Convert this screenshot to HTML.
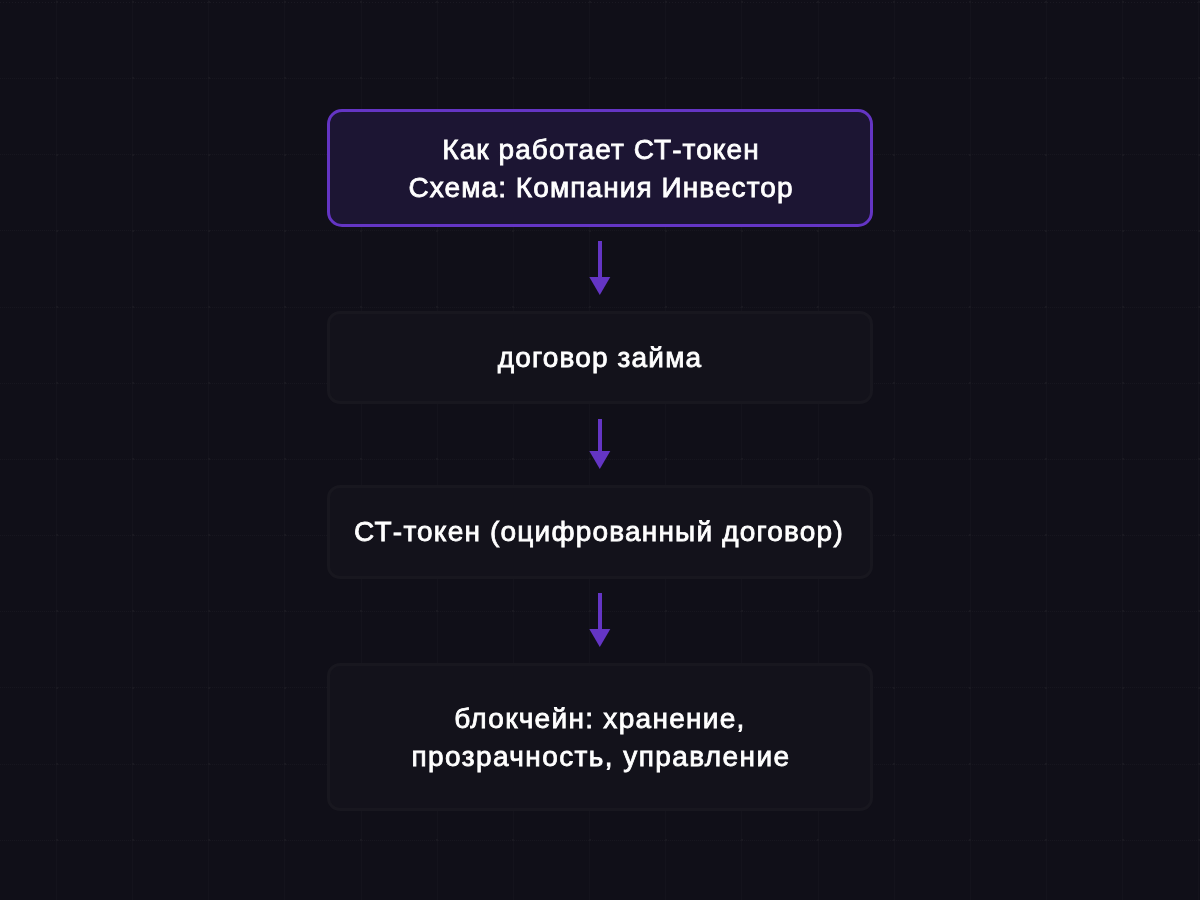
<!DOCTYPE html>
<html><head><meta charset="utf-8"><style>
html,body{margin:0;padding:0;}
body{width:1200px;height:900px;background:#100f18;position:relative;overflow:hidden;font-family:"Liberation Sans",sans-serif;}
.vl{position:absolute;top:0;width:1px;height:900px;background:#14131c;}
.hl{position:absolute;left:0;height:1px;width:1200px;background:repeating-linear-gradient(to right,#17161f 0 1px,transparent 1px 2px);}
.hl0{position:absolute;left:0;height:1px;width:1200px;background:repeating-linear-gradient(to right,#1a1922 0 1px,transparent 1px 3px);}
.dot{position:absolute;width:2px;height:2px;background:#1a1921;}
.box{position:absolute;left:327px;width:546px;box-sizing:border-box;border:3px solid #18171f;background:#13121b;border-radius:13px;}
.b1{border-radius:15px;top:109px;height:118px;border-color:#6435c4;background:#1c1533;}
.b2{top:311px;height:93px;}
.b3{top:485px;height:94px;}
.b4{top:663px;height:148px;}
.t{position:absolute;left:0;width:1200px;box-sizing:border-box;text-align:center;color:#fff;font-weight:400;font-size:28px;white-space:nowrap;-webkit-text-stroke:0.8px #fff;will-change:transform;}
svg{position:absolute;left:0;top:0;}
</style></head><body>
<div class="vl" style="left:56px"></div><div class="vl" style="left:132px"></div><div class="vl" style="left:208px"></div><div class="vl" style="left:284px"></div><div class="vl" style="left:361px"></div><div class="vl" style="left:437px"></div><div class="vl" style="left:513px"></div><div class="vl" style="left:589px"></div><div class="vl" style="left:665px"></div><div class="vl" style="left:741px"></div><div class="vl" style="left:818px"></div><div class="vl" style="left:894px"></div><div class="vl" style="left:970px"></div><div class="vl" style="left:1046px"></div><div class="vl" style="left:1122px"></div><div class="vl" style="left:1198px"></div><div class="hl0" style="top:2px"></div><div class="hl" style="top:78px"></div><div class="hl" style="top:154px"></div><div class="hl" style="top:230px"></div><div class="hl" style="top:307px"></div><div class="hl" style="top:383px"></div><div class="hl" style="top:459px"></div><div class="hl" style="top:535px"></div><div class="hl" style="top:611px"></div><div class="hl" style="top:687px"></div><div class="hl" style="top:764px"></div><div class="hl" style="top:840px"></div><div class="dot" style="left:56px;top:1px"></div><div class="dot" style="left:56px;top:77px"></div><div class="dot" style="left:56px;top:154px"></div><div class="dot" style="left:56px;top:230px"></div><div class="dot" style="left:56px;top:306px"></div><div class="dot" style="left:56px;top:382px"></div><div class="dot" style="left:56px;top:458px"></div><div class="dot" style="left:56px;top:534px"></div><div class="dot" style="left:56px;top:610px"></div><div class="dot" style="left:56px;top:687px"></div><div class="dot" style="left:56px;top:763px"></div><div class="dot" style="left:56px;top:839px"></div><div class="dot" style="left:132px;top:1px"></div><div class="dot" style="left:132px;top:77px"></div><div class="dot" style="left:132px;top:154px"></div><div class="dot" style="left:132px;top:230px"></div><div class="dot" style="left:132px;top:306px"></div><div class="dot" style="left:132px;top:382px"></div><div class="dot" style="left:132px;top:458px"></div><div class="dot" style="left:132px;top:534px"></div><div class="dot" style="left:132px;top:610px"></div><div class="dot" style="left:132px;top:687px"></div><div class="dot" style="left:132px;top:763px"></div><div class="dot" style="left:132px;top:839px"></div><div class="dot" style="left:208px;top:1px"></div><div class="dot" style="left:208px;top:77px"></div><div class="dot" style="left:208px;top:154px"></div><div class="dot" style="left:208px;top:230px"></div><div class="dot" style="left:208px;top:306px"></div><div class="dot" style="left:208px;top:382px"></div><div class="dot" style="left:208px;top:458px"></div><div class="dot" style="left:208px;top:534px"></div><div class="dot" style="left:208px;top:610px"></div><div class="dot" style="left:208px;top:687px"></div><div class="dot" style="left:208px;top:763px"></div><div class="dot" style="left:208px;top:839px"></div><div class="dot" style="left:284px;top:1px"></div><div class="dot" style="left:284px;top:77px"></div><div class="dot" style="left:284px;top:154px"></div><div class="dot" style="left:284px;top:230px"></div><div class="dot" style="left:284px;top:306px"></div><div class="dot" style="left:284px;top:382px"></div><div class="dot" style="left:284px;top:458px"></div><div class="dot" style="left:284px;top:534px"></div><div class="dot" style="left:284px;top:610px"></div><div class="dot" style="left:284px;top:687px"></div><div class="dot" style="left:284px;top:763px"></div><div class="dot" style="left:284px;top:839px"></div><div class="dot" style="left:360px;top:1px"></div><div class="dot" style="left:360px;top:77px"></div><div class="dot" style="left:360px;top:154px"></div><div class="dot" style="left:360px;top:230px"></div><div class="dot" style="left:360px;top:306px"></div><div class="dot" style="left:360px;top:382px"></div><div class="dot" style="left:360px;top:458px"></div><div class="dot" style="left:360px;top:534px"></div><div class="dot" style="left:360px;top:610px"></div><div class="dot" style="left:360px;top:687px"></div><div class="dot" style="left:360px;top:763px"></div><div class="dot" style="left:360px;top:839px"></div><div class="dot" style="left:436px;top:1px"></div><div class="dot" style="left:436px;top:77px"></div><div class="dot" style="left:436px;top:154px"></div><div class="dot" style="left:436px;top:230px"></div><div class="dot" style="left:436px;top:306px"></div><div class="dot" style="left:436px;top:382px"></div><div class="dot" style="left:436px;top:458px"></div><div class="dot" style="left:436px;top:534px"></div><div class="dot" style="left:436px;top:610px"></div><div class="dot" style="left:436px;top:687px"></div><div class="dot" style="left:436px;top:763px"></div><div class="dot" style="left:436px;top:839px"></div><div class="dot" style="left:512px;top:1px"></div><div class="dot" style="left:512px;top:77px"></div><div class="dot" style="left:512px;top:154px"></div><div class="dot" style="left:512px;top:230px"></div><div class="dot" style="left:512px;top:306px"></div><div class="dot" style="left:512px;top:382px"></div><div class="dot" style="left:512px;top:458px"></div><div class="dot" style="left:512px;top:534px"></div><div class="dot" style="left:512px;top:610px"></div><div class="dot" style="left:512px;top:687px"></div><div class="dot" style="left:512px;top:763px"></div><div class="dot" style="left:512px;top:839px"></div><div class="dot" style="left:589px;top:1px"></div><div class="dot" style="left:589px;top:77px"></div><div class="dot" style="left:589px;top:154px"></div><div class="dot" style="left:589px;top:230px"></div><div class="dot" style="left:589px;top:306px"></div><div class="dot" style="left:589px;top:382px"></div><div class="dot" style="left:589px;top:458px"></div><div class="dot" style="left:589px;top:534px"></div><div class="dot" style="left:589px;top:610px"></div><div class="dot" style="left:589px;top:687px"></div><div class="dot" style="left:589px;top:763px"></div><div class="dot" style="left:589px;top:839px"></div><div class="dot" style="left:665px;top:1px"></div><div class="dot" style="left:665px;top:77px"></div><div class="dot" style="left:665px;top:154px"></div><div class="dot" style="left:665px;top:230px"></div><div class="dot" style="left:665px;top:306px"></div><div class="dot" style="left:665px;top:382px"></div><div class="dot" style="left:665px;top:458px"></div><div class="dot" style="left:665px;top:534px"></div><div class="dot" style="left:665px;top:610px"></div><div class="dot" style="left:665px;top:687px"></div><div class="dot" style="left:665px;top:763px"></div><div class="dot" style="left:665px;top:839px"></div><div class="dot" style="left:741px;top:1px"></div><div class="dot" style="left:741px;top:77px"></div><div class="dot" style="left:741px;top:154px"></div><div class="dot" style="left:741px;top:230px"></div><div class="dot" style="left:741px;top:306px"></div><div class="dot" style="left:741px;top:382px"></div><div class="dot" style="left:741px;top:458px"></div><div class="dot" style="left:741px;top:534px"></div><div class="dot" style="left:741px;top:610px"></div><div class="dot" style="left:741px;top:687px"></div><div class="dot" style="left:741px;top:763px"></div><div class="dot" style="left:741px;top:839px"></div><div class="dot" style="left:817px;top:1px"></div><div class="dot" style="left:817px;top:77px"></div><div class="dot" style="left:817px;top:154px"></div><div class="dot" style="left:817px;top:230px"></div><div class="dot" style="left:817px;top:306px"></div><div class="dot" style="left:817px;top:382px"></div><div class="dot" style="left:817px;top:458px"></div><div class="dot" style="left:817px;top:534px"></div><div class="dot" style="left:817px;top:610px"></div><div class="dot" style="left:817px;top:687px"></div><div class="dot" style="left:817px;top:763px"></div><div class="dot" style="left:817px;top:839px"></div><div class="dot" style="left:893px;top:1px"></div><div class="dot" style="left:893px;top:77px"></div><div class="dot" style="left:893px;top:154px"></div><div class="dot" style="left:893px;top:230px"></div><div class="dot" style="left:893px;top:306px"></div><div class="dot" style="left:893px;top:382px"></div><div class="dot" style="left:893px;top:458px"></div><div class="dot" style="left:893px;top:534px"></div><div class="dot" style="left:893px;top:610px"></div><div class="dot" style="left:893px;top:687px"></div><div class="dot" style="left:893px;top:763px"></div><div class="dot" style="left:893px;top:839px"></div><div class="dot" style="left:969px;top:1px"></div><div class="dot" style="left:969px;top:77px"></div><div class="dot" style="left:969px;top:154px"></div><div class="dot" style="left:969px;top:230px"></div><div class="dot" style="left:969px;top:306px"></div><div class="dot" style="left:969px;top:382px"></div><div class="dot" style="left:969px;top:458px"></div><div class="dot" style="left:969px;top:534px"></div><div class="dot" style="left:969px;top:610px"></div><div class="dot" style="left:969px;top:687px"></div><div class="dot" style="left:969px;top:763px"></div><div class="dot" style="left:969px;top:839px"></div><div class="dot" style="left:1045px;top:1px"></div><div class="dot" style="left:1045px;top:77px"></div><div class="dot" style="left:1045px;top:154px"></div><div class="dot" style="left:1045px;top:230px"></div><div class="dot" style="left:1045px;top:306px"></div><div class="dot" style="left:1045px;top:382px"></div><div class="dot" style="left:1045px;top:458px"></div><div class="dot" style="left:1045px;top:534px"></div><div class="dot" style="left:1045px;top:610px"></div><div class="dot" style="left:1045px;top:687px"></div><div class="dot" style="left:1045px;top:763px"></div><div class="dot" style="left:1045px;top:839px"></div><div class="dot" style="left:1122px;top:1px"></div><div class="dot" style="left:1122px;top:77px"></div><div class="dot" style="left:1122px;top:154px"></div><div class="dot" style="left:1122px;top:230px"></div><div class="dot" style="left:1122px;top:306px"></div><div class="dot" style="left:1122px;top:382px"></div><div class="dot" style="left:1122px;top:458px"></div><div class="dot" style="left:1122px;top:534px"></div><div class="dot" style="left:1122px;top:610px"></div><div class="dot" style="left:1122px;top:687px"></div><div class="dot" style="left:1122px;top:763px"></div><div class="dot" style="left:1122px;top:839px"></div><div class="dot" style="left:1198px;top:1px"></div><div class="dot" style="left:1198px;top:77px"></div><div class="dot" style="left:1198px;top:154px"></div><div class="dot" style="left:1198px;top:230px"></div><div class="dot" style="left:1198px;top:306px"></div><div class="dot" style="left:1198px;top:382px"></div><div class="dot" style="left:1198px;top:458px"></div><div class="dot" style="left:1198px;top:534px"></div><div class="dot" style="left:1198px;top:610px"></div><div class="dot" style="left:1198px;top:687px"></div><div class="dot" style="left:1198px;top:763px"></div><div class="dot" style="left:1198px;top:839px"></div>
<div class="box b1"></div>
<div class="box b2"></div>
<div class="box b3"></div>
<div class="box b4"></div>
<svg width="1200" height="900" viewBox="0 0 1200 900">
<g fill="#6435c4">
<rect x="598" y="241" width="4" height="37"/><polygon points="589.3,277 610.3,277 599.8,295"/>
<rect x="598" y="419" width="4" height="33"/><polygon points="589.3,451 610.3,451 599.8,469"/>
<rect x="598" y="593" width="4" height="37"/><polygon points="589.3,629 610.3,629 599.8,647"/>
</g></svg>
<div class="t" style="top:130.50px;line-height:38px;letter-spacing:1.075px;left:0.55px">Как работает СТ-токен</div><div class="t" style="top:168.60px;line-height:38px;letter-spacing:1.083px;left:0.65px">Схема: Компания Инвестор</div><div class="t" style="top:338.80px;line-height:38px;letter-spacing:1.175px;left:-0.45px">договор займа</div><div class="t" style="top:512.80px;line-height:38px;letter-spacing:1.200px;left:-1.20px">СТ-токен (оцифрованный договор)</div><div class="t" style="top:699.70px;line-height:38px;letter-spacing:1.300px;left:0.30px">блокчейн: хранение,</div><div class="t" style="top:737.50px;line-height:38px;letter-spacing:1.409px;left:0.60px">прозрачность, управление</div>
</body></html>
